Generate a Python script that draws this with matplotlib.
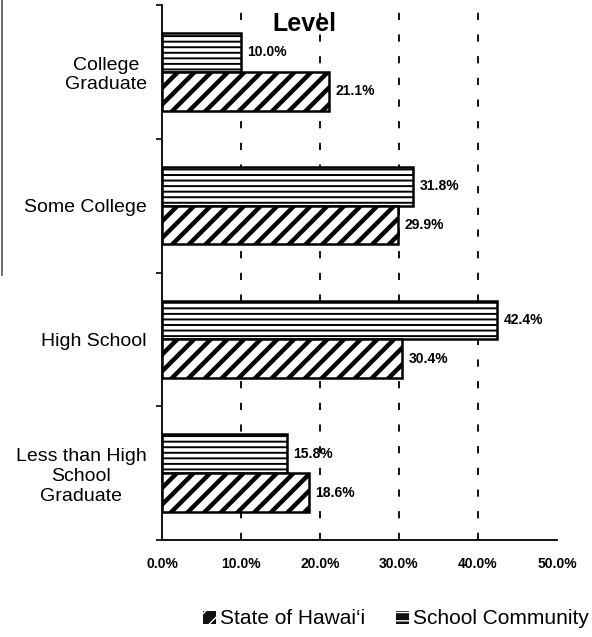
import numpy as np
import matplotlib
matplotlib.use("Agg")
from matplotlib import pyplot as plt
from matplotlib.lines import Line2D
from matplotlib.patches import Patch

plt.rcParams["font.family"] = ["Liberation Sans", "DejaVu Sans"]

categories = ["College\nGraduate", "Some College", "High School", "Less than High\nSchool\nGraduate"]
school_community = [10.0, 31.8, 42.4, 15.8]
state_hawaii = [21.1, 29.9, 30.4, 18.6]
xticks = [0, 10, 20, 30, 40, 50]
xtick_labels = ["0.0%", "10.0%", "20.0%", "30.0%", "40.0%", "50.0%"]
series_names = ["State of Hawai\u2018i", "School Community"]

fig = plt.figure(figsize=(5.92, 6.37), dpi=100)
ax = fig.add_axes([162 / 592, 1 - 540 / 637, (557 - 162) / 592, (540 - 5) / 637])

y = np.arange(len(categories))
h = 0.29

ax.set_axisbelow(True)
for xv in xticks[1:-1]:
    ax.axvline(xv, color="black", lw=1.3, linestyle=(0, (4, 8)), zorder=0)

sc = ax.barh(y - h / 2, school_community, height=h, color="white", edgecolor="black",
             linewidth=1.8, hatch="---", zorder=2)
st = ax.barh(y + h / 2, state_hawaii, height=h, color="white", edgecolor="black",
             linewidth=1.8, hatch="//", zorder=2)

# per-artist hatch width (mpl >= 3.10)
for bars, lw in ((sc, 1.4), (st, 3.2)):
    for b in bars:
        if hasattr(b, "set_hatch_linewidth"):
            b.set_hatch_linewidth(lw)

for bars, vals in ((sc, school_community), (st, state_hawaii)):
    for b, v in zip(bars, vals):
        ax.text(v + 0.8, b.get_y() + b.get_height() / 2, f"{v:.1f}%",
                va="center", ha="left", fontsize=10, fontweight="bold")

ax.set_xlim(0, 50)
ax.set_ylim(len(categories) - 0.5, -0.5)
ax.set_xticks(xticks)
ax.set_xticklabels(xtick_labels, fontsize=10, fontweight="bold")
ax.set_yticks(y)
ax.set_yticklabels(categories, fontsize=14)
for t in ax.get_yticklabels():
    t.set_multialignment("center")
ax.set_yticks(np.arange(len(categories) + 1) - 0.5, minor=True)
ax.tick_params(axis="y", which="major", length=0, pad=11)
ax.tick_params(axis="y", which="minor", length=4, width=1.2, direction="out")
ax.tick_params(axis="x", length=0, pad=12)

for s in ("top", "right"):
    ax.spines[s].set_visible(False)
for s in ("left", "bottom"):
    ax.spines[s].set_linewidth(1.3)

fig.text(304 / 592, 1 - 24 / 637, "Level", fontsize=18, fontweight="bold",
         ha="center", va="center")

fig.add_artist(Line2D([1.5 / 592, 1.5 / 592], [1, 1 - 275 / 637], color="#555555", lw=1.2))

handles = [
    Patch(facecolor="#111111", edgecolor="white", hatch="//", linewidth=0),
    Patch(facecolor="#111111", edgecolor="white", hatch="--", linewidth=0),
]
for p in handles:
    if hasattr(p, "set_hatch_linewidth"):
        p.set_hatch_linewidth(1.6)
fig.legend(handles=handles, labels=series_names, loc="center right",
           bbox_to_anchor=(589 / 592, 1 - 619 / 637),
           ncol=2, frameon=False, fontsize=15, handlelength=0.6, handleheight=0.6,
           handletextpad=0.2, columnspacing=1.5, borderaxespad=0, borderpad=0)

fig.savefig("out.png", dpi=100)
